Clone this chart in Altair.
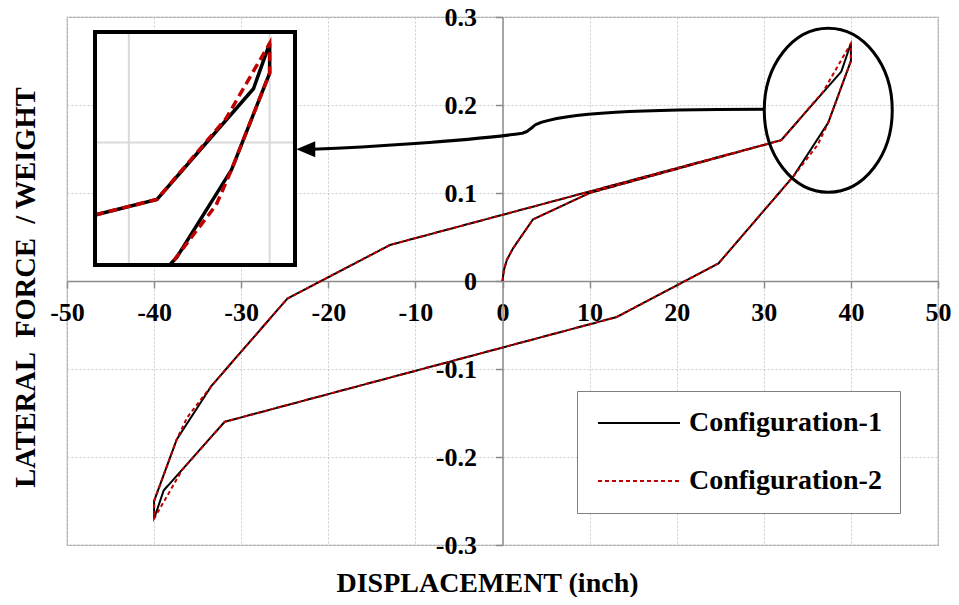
import altair as alt
import pandas as pd

# ---------------- data ----------------
series_names = ["Configuration-1", "Configuration-2"]

disp_c1 = [0, 0.15, 0.5, 1.2, 3.5, 10, 32, 38.9, 40, 40, 37.4, 33.4, 24.8, 13.1,
           -31.9, -38.9, -40, -40, -37.4, -33.4, -24.7, -12.9, 32]
force_c1 = [0, 0.012, 0.024, 0.037, 0.07, 0.1, 0.16, 0.238, 0.27, 0.25, 0.18, 0.119, 0.02, -0.041,
            -0.16, -0.238, -0.27, -0.25, -0.18, -0.119, -0.02, 0.041, 0.16]

disp_c2 = [0, 0.15, 0.5, 1.2, 3.5, 10, 32, 36.8, 40, 40, 37.4, 36.2, 33.4, 24.8, 13.1,
           -31.9, -36.8, -40, -40, -37.4, -36.2, -33.4, -24.7, -12.9, 32]
force_c2 = [0, 0.012, 0.024, 0.037, 0.07, 0.1, 0.16, 0.215, 0.27, 0.25, 0.18, 0.155, 0.119, 0.02, -0.041,
            -0.16, -0.215, -0.27, -0.25, -0.18, -0.155, -0.119, -0.02, 0.041, 0.16]

# zoomed inset
inset_disp_c1 = [27.6, 32, 38.85, 40, 40, 37.3, 33.4, 32.9]
inset_force_c1 = [0.149, 0.16, 0.238, 0.27, 0.249, 0.181, 0.119, 0.1137]
inset_disp_c2 = [27.6, 32, 36.9, 40, 40, 37.3, 36.2, 33.2, 32.9]
inset_force_c2 = [0.149, 0.16, 0.217, 0.27, 0.249, 0.181, 0.156, 0.117, 0.1137]
inset_x_domain = [27.6, 41.8]
inset_y_domain = [0.1137, 0.278]
inset_grid_x = [30, 40]
inset_grid_y = [0.2]

x_ticks = [-50, -40, -30, -20, -10, 0, 10, 20, 30, 40, 50]
y_ticks = [-0.3, -0.2, -0.1, 0, 0.1, 0.2, 0.3]

# ---------------- build tables ----------------
def table(name, xs, ys):
    return pd.DataFrame({"series": name, "order": list(range(len(xs))), "disp": xs, "force": ys})

df_main = pd.concat([table(series_names[0], disp_c1, force_c1),
                     table(series_names[1], disp_c2, force_c2)], ignore_index=True)
df_in1 = table(series_names[0], inset_disp_c1, inset_force_c1)
df_in2 = table(series_names[1], inset_disp_c2, inset_force_c2)
df_gx = pd.DataFrame({"gx": inset_grid_x})
df_gy = pd.DataFrame({"gy": inset_grid_y})
one = pd.DataFrame({"k": [0]})

W, H = 871, 528
FONT = "Liberation Serif"
NB = "\u00a0"

xs = alt.Scale(domain=[-50, 50], nice=False, zero=False)
ys = alt.Scale(domain=[-0.3, 0.3], nice=False, zero=False)

axis_common = dict(
    grid=True, gridDash=[2, 2], gridColor="#cccccc", gridWidth=1,
    domainColor="#8c8c8c", domainWidth=1.5, tickColor="#8c8c8c", tickWidth=1.5, tickSize=7,
    labelFont=FONT, labelFontSize=26, labelFontWeight="bold", labelColor="black",
    labelFlush=False, labelOverlap=False,
    titleFont=FONT, titleFontWeight="bold", titleColor="black",
)

x_axis = alt.Axis(values=x_ticks, orient="bottom", offset=-H / 2, labelPadding=11,
                  labelExpr="(datum.value < 0 ? '-' : '') + format(abs(datum.value), 'd')",
                  title="DISPLACEMENT (inch)", titleFontSize=28, titleX=420, titleY=310,
                  titleAlign="center", titleBaseline="alphabetic", **axis_common)
y_axis = alt.Axis(values=y_ticks, orient="left", offset=-W / 2, labelPadding=19,
                  labelExpr="(datum.value < 0 ? '-' : '') + format(abs(datum.value), '~g')",
                  title="LATERAL" + NB + " FORCE" + NB + " / WEIGHT", titleFontSize=28.5,
                  titleX=-468, titleY=270, titleAngle=-90,
                  titleAlign="center", titleBaseline="alphabetic", **axis_common)

LEGEND_SYMBOL = "M -2.2 0 H 14.2"
legend = alt.Legend(orient="none", legendX=510, legendY=374, title=None,
                    symbolType=LEGEND_SYMBOL, symbolSize=100, symbolStrokeWidth=2,
                    labelFont=FONT, labelFontSize=28, labelFontWeight="bold", labelColor="black",
                    labelOffset=66, labelLimit=0, rowPadding=30, padding=18,
                    strokeColor="#808080", fillColor="white")

lines = alt.Chart(df_main).mark_line(strokeWidth=2).encode(
    x=alt.X("disp:Q", scale=xs, axis=x_axis),
    y=alt.Y("force:Q", scale=ys, axis=y_axis),
    order="order:Q",
    color=alt.Color("series:N", scale=alt.Scale(domain=series_names, range=["#000000", "#c00000"]),
                    legend=legend),
    strokeDash=alt.StrokeDash("series:N", scale=alt.Scale(domain=series_names, range=[[1, 0], [4, 3]]),
                              legend=legend),
)

ELLIPSE = "M -64 0 A 64 82 0 1 0 64 0 A 64 82 0 1 0 -64 0 Z"
ARROW_LINE = ("M -64 -1 C -184 -1 -264 2 -292 14 C -296 16 -298 21 -306 23 "
              "C -364 31 -464 37 -516 39")
ARROW_HEAD = "M -532 39 L -513 31 L -513 47 Z"

ell_x, ell_y = 37.4, 0.194

ellipse = alt.Chart(one).mark_point(shape=ELLIPSE, size=4, filled=False, stroke="black",
                                    strokeWidth=3, opacity=1).encode(
    x=alt.X(datum=ell_x, scale=xs), y=alt.Y(datum=ell_y, scale=ys))
arrow_line = alt.Chart(one).mark_point(shape=ARROW_LINE, size=4, filled=False, stroke="black",
                                       strokeWidth=3, opacity=1).encode(
    x=alt.X(datum=ell_x, scale=xs), y=alt.Y(datum=ell_y, scale=ys))
arrow_head = alt.Chart(one).mark_point(shape=ARROW_HEAD, size=4, filled=True, fill="black",
                                       strokeWidth=0, opacity=1).encode(
    x=alt.X(datum=ell_x, scale=xs), y=alt.Y(datum=ell_y, scale=ys))

main = alt.layer(lines, ellipse, arrow_line, arrow_head)

# ---------------- inset ----------------
ixs = alt.Scale(domain=inset_x_domain, range=[28, 228], nice=False, zero=False)
iys = alt.Scale(domain=inset_y_domain, range=[248, 15], nice=False, zero=False)

box_fill = alt.Chart(one).mark_rect(fill="white", stroke=None).encode(
    x=alt.X(datum=inset_x_domain[0], scale=ixs, axis=None), x2=alt.X2(datum=inset_x_domain[1]),
    y=alt.Y(datum=inset_y_domain[0], scale=iys, axis=None), y2=alt.Y2(datum=inset_y_domain[1]))
grid_v = alt.Chart(df_gx).mark_rule(color="#d9d9d9", strokeWidth=2).encode(
    x=alt.X("gx:Q", scale=ixs, axis=None),
    y=alt.Y(datum=inset_y_domain[0], scale=iys, axis=None), y2=alt.Y2(datum=inset_y_domain[1]))
grid_h = alt.Chart(df_gy).mark_rule(color="#d9d9d9", strokeWidth=2).encode(
    y=alt.Y("gy:Q", scale=iys, axis=None),
    x=alt.X(datum=inset_x_domain[0], scale=ixs, axis=None), x2=alt.X2(datum=inset_x_domain[1]))
in1 = alt.Chart(df_in1).mark_line(color="black", strokeWidth=3.5).encode(
    x=alt.X("disp:Q", scale=ixs, axis=None), y=alt.Y("force:Q", scale=iys, axis=None), order="order:Q")
in2 = alt.Chart(df_in2).mark_line(color="#c00000", strokeWidth=3.5, strokeDash=[9, 5]).encode(
    x=alt.X("disp:Q", scale=ixs, axis=None), y=alt.Y("force:Q", scale=iys, axis=None), order="order:Q")
box_stroke = alt.Chart(one).mark_rect(fill=None, stroke="black", strokeWidth=4).encode(
    x=alt.X(datum=inset_x_domain[0], scale=ixs, axis=None), x2=alt.X2(datum=inset_x_domain[1]),
    y=alt.Y(datum=inset_y_domain[0], scale=iys, axis=None), y2=alt.Y2(datum=inset_y_domain[1]))

inset = alt.layer(box_fill, grid_v, grid_h, in1, in2, box_stroke)

chart = alt.layer(main, inset).resolve_scale(x="independent", y="independent").properties(
    width=W, height=H,
    autosize=alt.AutoSizeParams(type="none"),
    padding={"left": 59, "top": 9, "right": 13, "bottom": 52},
).configure_view(stroke="#a6a6a6", strokeWidth=1.2)

chart.save("out.html", embed_options={"renderer": "svg", "actions": False})
